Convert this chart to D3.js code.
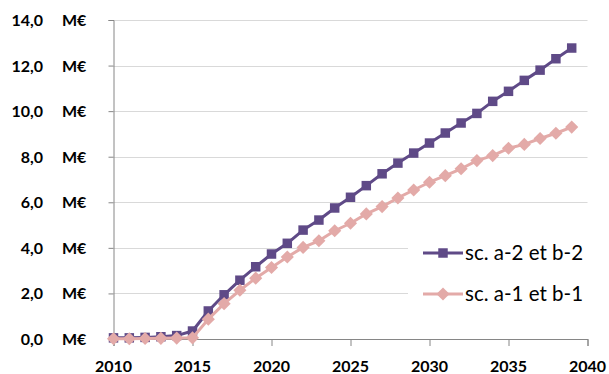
<!DOCTYPE html><html><head><meta charset="UTF-8"><script src="https://d3js.org/d3.v7.min.js"></script><style>
  body { margin: 0; background: #fff; }
  svg { display: block; font-family: Lato, "Open Sans", sans-serif; }
  .tick-label { font-weight: bold; font-size: 16px; fill: #000; }
  .legend-label { font-size: 20.5px; fill: #000; }
</style></head><body><div id="chart"></div><script>
const years = d3.range(2010, 2040);
const seriesNames = ["sc. a-2 et b-2", "sc. a-1 et b-1"];
const valuesA2 = [0.05, 0.05, 0.07, 0.10, 0.15, 0.35, 1.23, 1.94, 2.58, 3.17,
                  3.73, 4.20, 4.78, 5.22, 5.75, 6.22, 6.73, 7.25, 7.72, 8.16,
                  8.60, 9.04, 9.48, 9.90, 10.43, 10.87, 11.35, 11.80, 12.30, 12.77];
const valuesA1 = [0.01, 0.01, 0.02, 0.03, 0.04, 0.05, 0.87, 1.55, 2.14, 2.67,
                  3.14, 3.60, 4.02, 4.31, 4.75, 5.08, 5.49, 5.81, 6.19, 6.54,
                  6.88, 7.17, 7.47, 7.83, 8.05, 8.37, 8.54, 8.80, 9.03, 9.30];
const yTicks = [0, 2, 4, 6, 8, 10, 12, 14];
const xTicks = [2010, 2015, 2020, 2025, 2030, 2035, 2040];

const W = 609, H = 374;
const svg = d3.select('#chart').append('svg').attr('width', W).attr('height', H);

const x = d3.scaleLinear().domain([2010, 2040]).range([113.5, 587.5]);
const y = d3.scaleLinear().domain([0, 14]).range([339, 20]);

const purple = '#5f4a87';
const pink = '#e3aaa8';

// gridlines
svg.append('g').selectAll('line').data(yTicks.filter(d => d > 0)).enter().append('line')
  .attr('x1', x(2010)).attr('x2', x(2040))
  .attr('y1', d => Math.round(y(d)) + 0.5).attr('y2', d => Math.round(y(d)) + 0.5)
  .attr('stroke', '#d9d9d9').attr('stroke-width', 1);

// legend background
svg.append('rect').attr('x', 408).attr('y', 222).attr('width', 201).attr('height', 100).attr('fill', '#fff');

// y axis
const yAxis = svg.append('g').attr('transform', `translate(${x(2010)},0)`)
  .call(d3.axisLeft(y).tickValues(yTicks).tickSize(5).tickFormat(d => ''));
yAxis.select('.domain').attr('stroke', '#868686');
yAxis.selectAll('.tick line').attr('stroke', '#868686');

svg.append('g').selectAll('text').data(yTicks).enter().append('text')
  .attr('class', 'tick-label').attr('x', 43).attr('y', d => y(d) + 6)
  .attr('text-anchor', 'end').text(d => d3.format('.1f')(d).replace('.', ','));
svg.append('g').selectAll('text').data(yTicks).enter().append('text')
  .attr('class', 'tick-label').attr('x', 62).attr('y', d => y(d) + 6)
  .text('M€');

// x axis
const xAxis = svg.append('g').attr('transform', `translate(0,${y(0)})`)
  .call(d3.axisBottom(x).tickValues(xTicks).tickSize(7).tickFormat(''));
xAxis.select('.domain').attr('stroke', '#868686');
xAxis.selectAll('.tick line').attr('stroke', '#868686');
svg.append('g').selectAll('text').data(xTicks).enter().append('text')
  .attr('class', 'tick-label').attr('x', d => x(d)).attr('y', 371.5)
  .attr('text-anchor', 'middle').text(d => d);

// series
const line = d3.line().x((d, i) => x(years[i])).y(d => y(d));

function drawSeries(vals, color, shape, size) {
  svg.append('path').datum(vals).attr('d', line)
    .attr('fill', 'none').attr('stroke', color).attr('stroke-width', 3)
    .attr('stroke-linejoin', 'round');
  svg.append('g').selectAll('path').data(vals).enter().append('path')
    .attr('d', d3.symbol().type(shape).size(size))
    .attr('transform', (d, i) => `translate(${x(years[i])},${y(d)})`)
    .attr('fill', color);
}
drawSeries(valuesA2, purple, d3.symbolSquare, 90);
drawSeries(valuesA1, pink, d3.symbolDiamond2, 110);

// legend
const legend = [
  { name: seriesNames[0], color: purple, shape: d3.symbolSquare, size: 90, y: 253 },
  { name: seriesNames[1], color: pink, shape: d3.symbolDiamond2, size: 110, y: 294 }
];
const lg = svg.append('g').selectAll('g').data(legend).enter().append('g');
lg.append('line').attr('x1', 423).attr('x2', 463).attr('y1', d => d.y).attr('y2', d => d.y)
  .attr('stroke', d => d.color).attr('stroke-width', 3);
lg.append('path').attr('d', d => d3.symbol().type(d.shape).size(d.size)())
  .attr('transform', d => `translate(443,${d.y})`).attr('fill', d => d.color);
lg.append('text').attr('class', 'legend-label').attr('x', 465).attr('y', d => d.y + 7)
  .text(d => d.name);
</script></body></html>
